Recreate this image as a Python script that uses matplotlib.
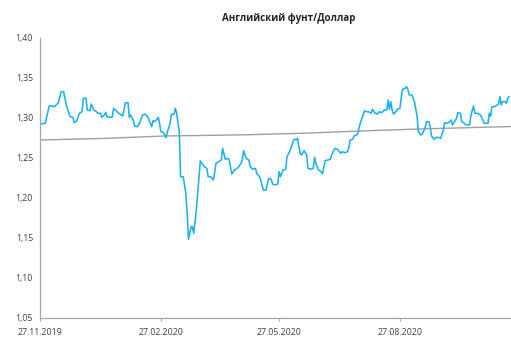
import numpy as np
import pandas as pd
import matplotlib
matplotlib.use("Agg")
import matplotlib.pyplot as plt
import matplotlib.dates as mdates
from matplotlib.ticker import FuncFormatter, FixedLocator

plt.rcParams['font.family'] = ['Open Sans', 'DejaVu Sans']

# GBP/USD daily close (sampled)
dates = [
    "2019-11-27", "2019-12-01", "2019-12-04", "2019-12-06", "2019-12-08", "2019-12-10", "2019-12-11",
    "2019-12-13", "2019-12-15", "2019-12-17", "2019-12-19", "2019-12-20", "2019-12-22", "2019-12-23",
    "2019-12-25", "2019-12-27", "2019-12-29", "2019-12-30", "2020-01-01", "2020-01-02", "2020-01-04",
    "2020-01-05", "2020-01-07", "2020-01-09", "2020-01-10", "2020-01-12", "2020-01-13", "2020-01-15",
    "2020-01-16", "2020-01-17", "2020-01-19", "2020-01-21", "2020-01-22", "2020-01-24", "2020-01-26",
    "2020-01-28", "2020-01-29", "2020-01-31", "2020-02-02", "2020-02-03", "2020-02-04", "2020-02-06",
    "2020-02-07", "2020-02-09", "2020-02-11", "2020-02-13", "2020-02-15", "2020-02-17", "2020-02-18",
    "2020-02-20", "2020-02-21", "2020-02-22", "2020-02-24", "2020-02-25", "2020-02-26", "2020-02-27",
    "2020-02-29", "2020-03-01", "2020-03-02", "2020-03-03", "2020-03-05", "2020-03-06", "2020-03-08",
    "2020-03-09", "2020-03-10", "2020-03-12", "2020-03-13", "2020-03-15", "2020-03-17", "2020-03-18",
    "2020-03-19", "2020-03-21", "2020-03-22", "2020-03-23", "2020-03-25", "2020-03-28", "2020-03-29",
    "2020-03-31", "2020-04-02", "2020-04-03", "2020-04-05", "2020-04-07", "2020-04-08", "2020-04-09",
    "2020-04-11", "2020-04-13", "2020-04-14", "2020-04-16", "2020-04-18", "2020-04-19", "2020-04-21",
    "2020-04-23", "2020-04-24", "2020-04-26", "2020-04-28", "2020-04-29", "2020-04-30", "2020-05-02",
    "2020-05-04", "2020-05-05", "2020-05-07", "2020-05-09", "2020-05-10", "2020-05-12", "2020-05-13",
    "2020-05-15", "2020-05-17", "2020-05-19", "2020-05-21", "2020-05-22", "2020-05-24", "2020-05-26",
    "2020-05-27", "2020-05-28", "2020-05-30", "2020-06-01", "2020-06-02", "2020-06-04", "2020-06-05",
    "2020-06-07", "2020-06-08", "2020-06-09", "2020-06-10", "2020-06-12", "2020-06-13", "2020-06-14",
    "2020-06-15", "2020-06-17", "2020-06-18", "2020-06-20", "2020-06-22", "2020-06-23", "2020-06-24",
    "2020-06-26", "2020-06-28", "2020-06-29", "2020-07-01", "2020-07-03", "2020-07-05", "2020-07-06",
    "2020-07-08", "2020-07-09", "2020-07-11", "2020-07-13", "2020-07-14", "2020-07-16", "2020-07-18",
    "2020-07-19", "2020-07-20", "2020-07-22", "2020-07-23", "2020-07-25", "2020-07-26", "2020-07-27",
    "2020-07-29", "2020-07-31", "2020-08-01", "2020-08-03", "2020-08-05", "2020-08-06", "2020-08-08",
    "2020-08-10", "2020-08-11", "2020-08-13", "2020-08-15", "2020-08-17", "2020-08-18", "2020-08-19",
    "2020-08-20", "2020-08-21", "2020-08-22", "2020-08-24", "2020-08-25", "2020-08-27", "2020-08-28",
    "2020-08-29", "2020-08-31", "2020-09-01", "2020-09-02", "2020-09-03", "2020-09-05", "2020-09-07",
    "2020-09-09", "2020-09-10", "2020-09-12", "2020-09-13", "2020-09-15", "2020-09-16", "2020-09-18",
    "2020-09-19", "2020-09-20", "2020-09-22", "2020-09-24", "2020-09-25", "2020-09-27", "2020-09-29",
    "2020-09-30", "2020-10-02", "2020-10-04", "2020-10-05", "2020-10-06", "2020-10-07", "2020-10-09",
    "2020-10-10", "2020-10-12", "2020-10-13", "2020-10-15", "2020-10-16", "2020-10-19", "2020-10-20",
    "2020-10-22", "2020-10-23", "2020-10-25", "2020-10-27", "2020-10-28", "2020-10-30", "2020-11-01",
    "2020-11-02", "2020-11-03", "2020-11-04", "2020-11-05", "2020-11-07", "2020-11-09", "2020-11-10",
    "2020-11-11", "2020-11-12", "2020-11-13", "2020-11-15", "2020-11-16", "2020-11-17", "2020-11-18",
]
gbpusd = [
    1.2925, 1.2934, 1.3150, 1.3150, 1.3141, 1.3175, 1.3191,
    1.3329, 1.3329, 1.3163, 1.3059, 1.3016, 1.3009, 1.2941,
    1.2966, 1.3059, 1.3079, 1.3246, 1.3246, 1.3100, 1.3091,
    1.3175, 1.3100, 1.3079, 1.3059, 1.3059, 1.3009, 1.3038,
    1.3071, 1.3016, 1.3009, 1.3009, 1.3121, 1.3091, 1.3059,
    1.3038, 1.3025, 1.3191, 1.3191, 1.3009, 1.3038, 1.2975,
    1.2900, 1.2891, 1.2941, 1.3038, 1.3046, 1.3016, 1.2975,
    1.2891, 1.2966, 1.2954, 1.2984, 1.3009, 1.2934, 1.2829,
    1.2816, 1.2788, 1.2754, 1.2829, 1.2934, 1.3046, 1.3046,
    1.3121, 1.3059, 1.2829, 1.2266, 1.2266, 1.2059, 1.1813,
    1.1484, 1.1641, 1.1641, 1.1559, 1.1850, 1.2463, 1.2441,
    1.2391, 1.2371, 1.2266, 1.2266, 1.2225, 1.2329, 1.2434,
    1.2454, 1.2475, 1.2621, 1.2484, 1.2496, 1.2475, 1.2300,
    1.2350, 1.2359, 1.2384, 1.2434, 1.2475, 1.2591, 1.2496,
    1.2475, 1.2391, 1.2359, 1.2371, 1.2309, 1.2266, 1.2225,
    1.2100, 1.2100, 1.2246, 1.2234, 1.2175, 1.2163, 1.2175,
    1.2329, 1.2266, 1.2350, 1.2359, 1.2516, 1.2579, 1.2621,
    1.2725, 1.2734, 1.2725, 1.2746, 1.2559, 1.2538, 1.2566,
    1.2591, 1.2538, 1.2371, 1.2359, 1.2371, 1.2509, 1.2434,
    1.2350, 1.2329, 1.2300, 1.2466, 1.2475, 1.2484, 1.2538,
    1.2609, 1.2621, 1.2600, 1.2559, 1.2579, 1.2566, 1.2579,
    1.2621, 1.2725, 1.2734, 1.2775, 1.2788, 1.2809, 1.2891,
    1.2996, 1.3091, 1.3079, 1.3079, 1.3059, 1.3109, 1.3059,
    1.3050, 1.3079, 1.3066, 1.3100, 1.3100, 1.3225, 1.3109,
    1.3204, 1.3100, 1.3050, 1.3079, 1.3109, 1.3121, 1.3266,
    1.3359, 1.3371, 1.3391, 1.3359, 1.3288, 1.3288, 1.3204,
    1.3025, 1.2829, 1.2788, 1.2800, 1.2871, 1.2954, 1.2954,
    1.2891, 1.2775, 1.2734, 1.2759, 1.2759, 1.2746, 1.2850,
    1.2941, 1.2934, 1.2954, 1.2975, 1.2913, 1.2941, 1.2996,
    1.3066, 1.3059, 1.2954, 1.2934, 1.2913, 1.2913, 1.3038,
    1.3150, 1.3059, 1.3059, 1.3038, 1.3016, 1.2934, 1.2934,
    1.2934, 1.3059, 1.3025, 1.3141, 1.3141, 1.3163, 1.3175,
    1.3266, 1.3163, 1.3204, 1.3204, 1.3184, 1.3246, 1.3266,
]

# long moving average
ma_dates = ["2019-11-27", "2020-01-15", "2020-03-01", "2020-05-01", "2020-06-15",
            "2020-08-01", "2020-09-15", "2020-11-19"]
ma_values = [1.2725, 1.2745, 1.2775, 1.2790, 1.2810, 1.2840, 1.2865, 1.2893]

tick_dates = ["2019-11-27", "2020-02-27", "2020-05-27", "2020-08-27"]

x = pd.to_datetime(dates)
x_ma = pd.to_datetime(ma_dates)

fig = plt.figure(figsize=(5.11, 3.38), dpi=100)
ax = fig.add_axes([40 / 511, 1 - 318 / 338, 471 / 511, 280 / 338])

ax.plot(x_ma, ma_values, color='#A0A0A0', lw=1.0)
ax.plot(x, gbpusd, color='#1AB2EE', lw=1.15)

ax.set_ylim(1.05, 1.40)
ax.set_yticks(np.arange(1.05, 1.4001, 0.05))
ax.yaxis.set_major_formatter(FuncFormatter(lambda v, p: f"{v:.2f}".replace('.', ',')))

ax.set_xlim(pd.Timestamp("2019-11-27"), pd.Timestamp("2020-11-19 12:00"))
ax.xaxis.set_major_locator(FixedLocator(mdates.date2num(pd.to_datetime(tick_dates))))
ax.xaxis.set_major_formatter(mdates.DateFormatter("%d.%m.%Y"))

for side in ('top', 'right'):
    ax.spines[side].set_visible(False)
for side in ('left', 'bottom'):
    ax.spines[side].set_color('#A6A6A6')
    ax.spines[side].set_linewidth(0.9)

ax.tick_params(axis='y', length=0, pad=5, labelsize=6.3, labelcolor='#404040')
ax.tick_params(axis='x', length=2.5, width=0.8, color='#A6A6A6', pad=5,
               labelsize=6.3, labelcolor='#404040')

fig.text(289 / 511, 1 - 18 / 338, "Английский фунт/Доллар", ha='center', va='center',
         fontsize=7, fontweight='bold', color='#262626')

fig.savefig("out.png", dpi=100)
